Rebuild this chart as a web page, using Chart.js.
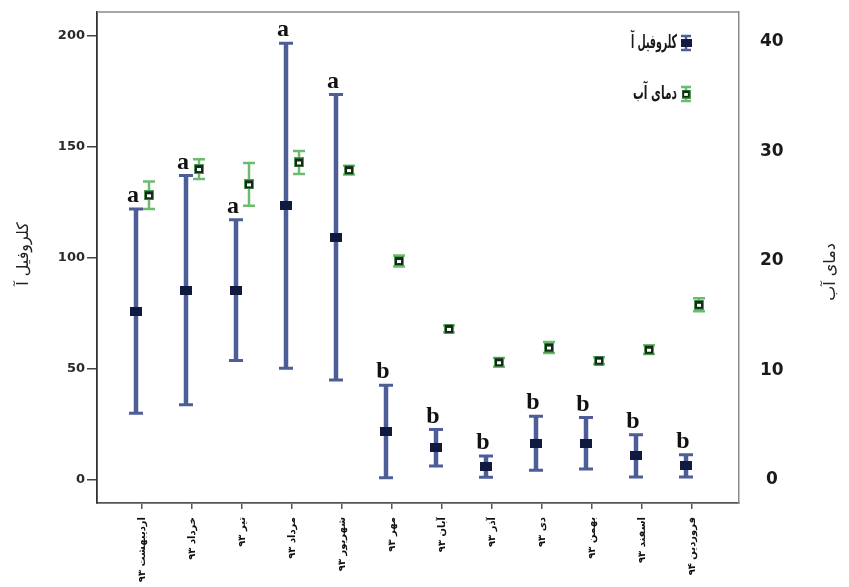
<!DOCTYPE html>
<html lang="fa">
<head>
<meta charset="utf-8">
<script src="https://cdn.jsdelivr.net/npm/chart.js@4.4.1/dist/chart.umd.min.js"></script>
<style>
  html, body { margin: 0; padding: 0; background: #ffffff; }
  #wrap { width: 849px; height: 587px; position: relative; }
</style>
</head>
<body>
<div id="wrap"><canvas id="chart" width="849" height="587"></canvas></div>
<script>
// Sampling months (Persian calendar)
const months = ['اردیبهشت ۹۳', 'خرداد ۹۳', 'تیر ۹۳', 'مرداد ۹۳', 'شهریور ۹۳', 'مهر ۹۳',
                'آبان ۹۳', 'آذر ۹۳', 'دی ۹۳', 'بهمن ۹۳', 'اسفند ۹۳', 'فروردین ۹۴'];

// Chlorophyll a: mean and error half-width
const chlMean = [76, 85.5, 85.5, 123.5, 109.3, 21.8, 14.5, 6.0, 16.5, 16.5, 10.8, 6.3];
const chlErr  = [46, 51.6, 31.7, 73.2, 64.3, 20.8, 8.2, 4.8, 12.2, 11.6, 9.5, 5.0];

// Water temperature: mean and error half-width
const tempMean = [26.0, 28.4, 27.0, 29.0, 28.3, 20.0, 13.8, 10.75, 12.1, 10.9, 11.9, 16.0];
const tempErr  = [1.25, 0.9, 1.95, 1.05, 0.4, 0.5, 0.3, 0.4, 0.5, 0.3, 0.4, 0.6];

// Significance group letters for chlorophyll
const groupLetters = ['a', 'a', 'a', 'a', 'a', 'b', 'b', 'b', 'b', 'b', 'b', 'b'];

// Axis tick values
const chlTicks = [0, 50, 100, 150, 200];
const tempTicks = [0, 10, 20, 30, 40];

const seriesNames = ['کلروفیل آ', 'دمای آب'];
const axisTitles = ['کلروفیل آ', 'دمای آب'];

const CHL_COLOR = '#4d5d98';
const CHL_MARK = '#0f1a3e';
const TEMP_COLOR = '#6cbc70';

function makeMarker(w, h, draw) {
  const c = document.createElement('canvas');
  c.width = w; c.height = h;
  draw(c.getContext('2d'));
  return c;
}
const chlMarker = makeMarker(12, 9, g => {
  g.fillStyle = CHL_MARK; g.fillRect(0, 0, 12, 9);
});
const tempMarker = makeMarker(10, 10, g => {
  g.fillStyle = '#4f9a55'; g.fillRect(0, 0, 10, 10);
  g.fillStyle = '#122c18'; g.fillRect(1, 1, 8, 8);
  g.fillStyle = '#ffffff'; g.fillRect(3, 4, 4, 3);
});

// Drop the half-label paddings so the plot box sits exactly where the frame is wanted
function noPad(s) { s.paddingTop = 0; s.paddingBottom = 0; s.paddingLeft = 0; s.paddingRight = 0; }

// Draws text squeezed horizontally to a given width
function fillFitted(ctx, text, x, y, width) {
  const w = ctx.measureText(text).width;
  ctx.save();
  ctx.translate(x, y);
  ctx.scale(width / w, 1);
  ctx.fillText(text, 0, 0);
  ctx.restore();
}

// Draws the vertical error bars with caps beneath each mean marker
const errorBars = {
  id: 'errorBars',
  beforeDatasetsDraw(chart) {
    const ctx = chart.ctx;
    const xs = chart.scales.x;
    chart.data.datasets.forEach(ds => {
      const ys = chart.scales[ds.yAxisID];
      const st = ds.errStyle;
      ctx.save();
      ctx.strokeStyle = st.color;
      ds.data.forEach(p => {
        const x = xs.getPixelForValue(p.x);
        const yt = ys.getPixelForValue(p.y + p.err);
        const yb = ys.getPixelForValue(p.y - p.err);
        ctx.lineWidth = st.stem;
        ctx.beginPath(); ctx.moveTo(x, yt); ctx.lineTo(x, yb); ctx.stroke();
        ctx.lineWidth = st.capW;
        ctx.beginPath();
        ctx.moveTo(x - st.cap / 2, yt); ctx.lineTo(x + st.cap / 2, yt);
        ctx.moveTo(x - st.cap / 2, yb); ctx.lineTo(x + st.cap / 2, yb);
        ctx.stroke();
      });
      ctx.restore();
    });
  },
  afterDatasetsDraw(chart) {
    // group letters above the chlorophyll bars
    const ctx = chart.ctx;
    const xs = chart.scales.x;
    const ys = chart.scales.y;
    const ds = chart.data.datasets[0];
    ctx.save();
    ctx.fillStyle = '#111';
    ctx.font = 'bold 24px "Liberation Serif", serif';
    ctx.textAlign = 'center';
    ctx.textBaseline = 'alphabetic';
    ds.data.forEach((p, i) => {
      const x = xs.getPixelForValue(p.x) - 3;
      const y = ys.getPixelForValue(p.y + p.err) - 7;
      ctx.fillText(groupLetters[i], x, y);
    });
    ctx.restore();
  },
  afterDraw(chart) {
    const ctx = chart.ctx;
    const a = chart.chartArea;
    ctx.save();
    // top frame line
    ctx.strokeStyle = '#8a8a8a';
    ctx.lineWidth = 1.5;
    ctx.beginPath(); ctx.moveTo(a.left, a.top); ctx.lineTo(a.right, a.top); ctx.stroke();

    // axis titles, rotated
    ctx.fillStyle = '#222';
    ctx.font = '16px "DejaVu Sans", sans-serif';
    ctx.textAlign = 'center';
    ctx.textBaseline = 'middle';
    [[axisTitles[0], 24, 254], [axisTitles[1], 831, 272]].forEach(([t, x, y]) => {
      ctx.save(); ctx.translate(x, y); ctx.rotate(-Math.PI / 2); ctx.fillText(t, 0, 0); ctx.restore();
    });

    // legend
    const items = [
      { name: seriesNames[0], y: 43, color: CHL_COLOR, mark: chlMarker, w: 46 },
      { name: seriesNames[1], y: 94, color: TEMP_COLOR, mark: tempMarker, w: 44 }
    ];
    items.forEach(it => {
      const ix = 686;
      ctx.strokeStyle = it.color;
      ctx.lineWidth = 2.5;
      ctx.beginPath();
      ctx.moveTo(ix, it.y - 7); ctx.lineTo(ix, it.y + 7);
      ctx.moveTo(ix - 5, it.y - 7); ctx.lineTo(ix + 5, it.y - 7);
      ctx.moveTo(ix - 5, it.y + 7); ctx.lineTo(ix + 5, it.y + 7);
      ctx.stroke();
      ctx.drawImage(it.mark, ix - (it.mark.width - 1) / 2, it.y - (it.mark.height - 1) / 2, it.mark.width - 1, it.mark.height - 1);
      ctx.fillStyle = '#1a1a1a';
      ctx.font = 'bold 19px "DejaVu Sans", sans-serif';
      ctx.textAlign = 'right';
      ctx.textBaseline = 'middle';
      fillFitted(ctx, it.name, 677, it.y, it.w);
    });
    ctx.restore();
  }
};

const chlData = months.map((m, i) => ({ x: i - 0.12, y: chlMean[i], err: chlErr[i] }));
const tempData = months.map((m, i) => ({ x: i + 0.14, y: tempMean[i], err: tempErr[i] }));

new Chart(document.getElementById('chart'), {
  type: 'scatter',
  data: {
    datasets: [
      {
        label: seriesNames[0],
        data: chlData,
        yAxisID: 'y',
        pointStyle: chlMarker,
        pointRadius: 6,
        showLine: false,
        errStyle: { color: CHL_COLOR, stem: 4.5, cap: 14, capW: 3 }
      },
      {
        label: seriesNames[1],
        data: tempData,
        yAxisID: 'y2',
        pointStyle: tempMarker,
        pointRadius: 6,
        showLine: false,
        errStyle: { color: TEMP_COLOR, stem: 2.5, cap: 12, capW: 2.5 }
      }
    ]
  },
  plugins: [errorBars],
  options: {
    responsive: false,
    animation: false,
    events: [],
    layout: { padding: { top: 12, left: 0, right: 0, bottom: 0 } },
    plugins: { legend: { display: false }, tooltip: { enabled: false } },
    scales: {
      x: {
        type: 'linear',
        min: -0.9,
        max: 11.94,
        afterFit: s => { s.height = 84; noPad(s); },
        afterBuildTicks: s => { s.ticks = months.map((m, i) => ({ value: i })); },
        grid: { display: true, drawOnChartArea: false, drawTicks: true, tickLength: 6, color: '#555', lineWidth: 1.5 },
        border: { display: true, color: '#555', width: 1.8 },
        ticks: {
          autoSkip: false,
          minRotation: 90,
          maxRotation: 90,
          padding: 8,
          color: '#111',
          font: { family: '"DejaVu Sans", sans-serif', size: 10, weight: 'bold' },
          callback: v => months[Math.round(v)]
        }
      },
      y: {
        position: 'left',
        min: -10.4,
        max: 210.8,
        afterFit: s => { s.width = 97; noPad(s); },
        afterBuildTicks: s => { s.ticks = chlTicks.map(v => ({ value: v })); },
        grid: { display: true, drawOnChartArea: false, drawTicks: true, tickLength: 10, color: '#444', lineWidth: 1.5 },
        border: { display: true, color: '#333', width: 1.8 },
        ticks: {
          padding: 2,
          color: '#2a2a2a',
          font: { family: '"DejaVu Sans", sans-serif', size: 13, weight: 'bold' }
        }
      },
      y2: {
        position: 'right',
        min: -2.1,
        max: 42.74,
        afterFit: s => { s.width = 110; noPad(s); },
        afterBuildTicks: s => { s.ticks = tempTicks.map(v => ({ value: v })); },
        grid: { display: false, drawOnChartArea: false, drawTicks: false },
        border: { display: true, color: '#8a8a8a', width: 1.5 },
        ticks: {
          crossAlign: 'center',
          padding: 21,
          color: '#1a1a1a',
          font: { family: '"DejaVu Sans", sans-serif', size: 17, weight: 'bold' }
        }
      }
    }
  }
});
</script>
</body>
</html>
